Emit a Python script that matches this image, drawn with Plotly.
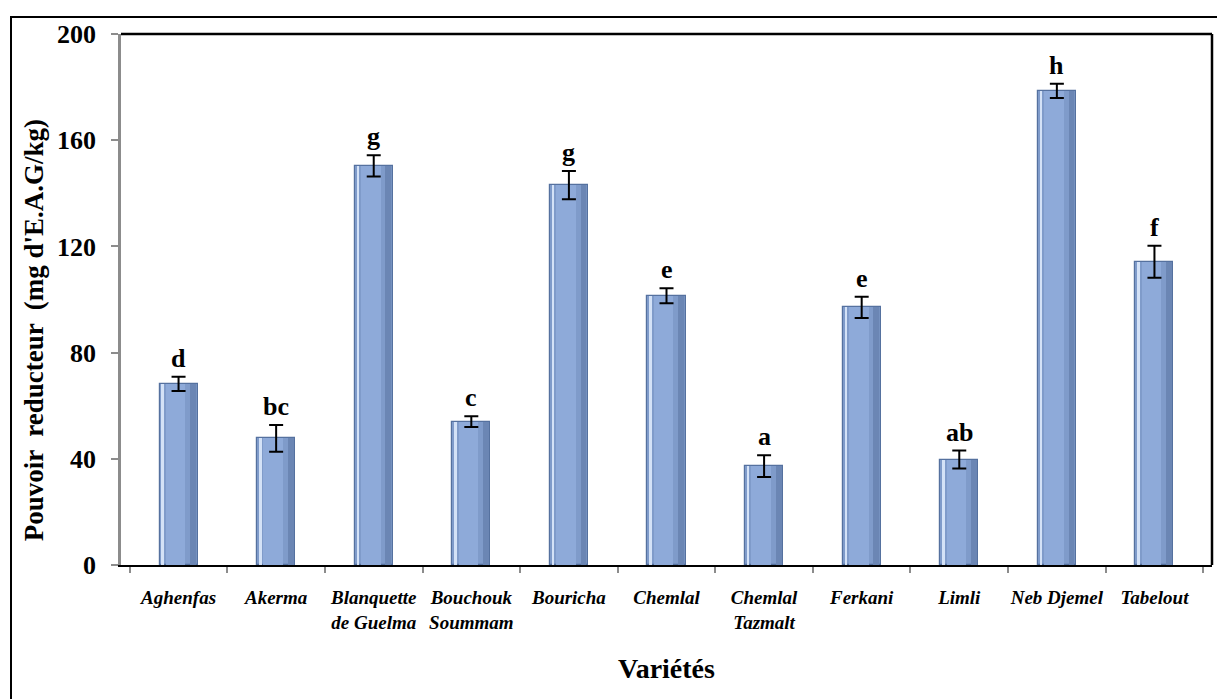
import plotly.graph_objects as go

categories = ["Aghenfas", "Akerma", "Blanquette<br>de Guelma", "Bouchouk<br>Soummam",
              "Bouricha", "Chemlal", "Chemlal<br>Tazmalt", "Ferkani", "Limli",
              "Neb Djemel", "Tabelout"]
values = [68.2, 47.7, 150.3, 54.0, 143.1, 101.4, 37.2, 97.0, 39.7, 178.6, 114.2]
errors = [2.7, 5.0, 4.0, 2.0, 5.3, 2.8, 4.1, 4.0, 3.4, 2.7, 6.0]
letters = ["d", "bc", "g", "c", "g", "e", "a", "e", "ab", "h", "f"]
y_ticks = [0, 40, 80, 120, 160, 200]

FONT = "Liberation Serif"
OFF = 8  # page body margin
W, H = 1225, 699
# target plot area in screen pixels: x 121..1212, y 31..565
L = 121 - OFF
T = 31 - OFF
R = W - (1212 - OFF)
B = H - (565 - OFF)
pw, ph = W - L - R, H - T - B

def px_x(p):
    return (p - OFF - L) / pw

def px_y(p):
    return (H - B - (p - OFF)) / ph

fig = go.Figure()

# main bar body
fig.add_trace(go.Bar(
    x=categories, y=values, width=0.39,
    marker=dict(color="#7f9bca", line=dict(color="#55719f", width=1.2)),
    hoverinfo="skip", showlegend=False,
))
# darker right shading strip
fig.add_trace(go.Bar(
    x=categories, y=values, width=0.06, offset=0.12,
    marker=dict(color="#6b86b4", line=dict(width=0)),
    hoverinfo="skip", showlegend=False,
))
# light highlight strip on left
fig.add_trace(go.Bar(
    x=categories, y=values, width=0.025, offset=-0.175,
    marker=dict(color="#d4e2f7", line=dict(width=0)),
    hoverinfo="skip", showlegend=False,
))
# central lighter body
fig.add_trace(go.Bar(
    x=categories, y=values, width=0.2, offset=-0.13,
    marker=dict(color="#8eaad9", line=dict(width=0)),
    hoverinfo="skip", showlegend=False,
))
# error bars on top
fig.add_trace(go.Scatter(
    x=categories, y=values, mode="markers",
    marker=dict(size=1, color="rgba(0,0,0,0)"),
    error_y=dict(type="data", array=errors, color="black", thickness=2, width=7),
    hoverinfo="skip", showlegend=False,
))

annotations = []
for c, v, e, t in zip(categories, values, errors, letters):
    annotations.append(dict(
        x=c, y=v + e, xref="x", yref="y", text=f"<b>{t}</b>", showarrow=False,
        yanchor="bottom", yshift=2,
        font=dict(family=FONT, size=26, color="black"),
    ))

annotations.append(dict(
    x=0.5, y=px_y(669), xref="paper", yref="paper", text="<b>Variétés</b>",
    showarrow=False, yanchor="middle", xanchor="center",
    font=dict(family=FONT, size=28, color="black"),
))
annotations.append(dict(
    x=px_x(34), y=px_y(329), xref="paper", yref="paper",
    text="<b>Pouvoir  reducteur  (mg d'E.A.G/kg)</b>",
    showarrow=False, textangle=-90, yanchor="middle", xanchor="center",
    font=dict(family=FONT, size=27, color="black"),
))

shapes = [
    # outer frame
    dict(type="rect", xref="paper", yref="paper",
         x0=px_x(11), x1=px_x(1250), y0=px_y(740), y1=px_y(14),
         line=dict(color="black", width=2), layer="below"),
    # plot area top and right borders
    dict(type="line", xref="paper", yref="paper", x0=0, x1=1, y0=1, y1=1,
         line=dict(color="black", width=2.5)),
    dict(type="line", xref="paper", yref="paper", x0=1, x1=1, y0=0, y1=1,
         line=dict(color="black", width=2.5)),
]

fig.update_layout(
    width=W, height=H,
    margin=dict(l=L, r=R, t=T, b=B),
    paper_bgcolor="white", plot_bgcolor="white",
    barmode="overlay", bargap=0,
    showlegend=False,
    annotations=annotations,
    shapes=shapes,
    font=dict(family=FONT, color="black"),
)

fig.update_xaxes(
    type="category",
    tickvals=categories, ticktext=[f"<b><i>{c}</i></b>" for c in categories],
    tickangle=0,
    showline=True, linecolor="black", linewidth=2,
    ticks="outside", tickson="boundaries", ticklen=6, tickcolor="#8c8c8c", tickwidth=1.5,
    tickfont=dict(family=FONT, size=19, color="black"),
    ticklabelstandoff=14,
    showgrid=False, zeroline=False,
)
fig.update_yaxes(
    range=[0, 200], tickvals=y_ticks, ticktext=[f"<b>{v}</b>" for v in y_ticks],
    showline=True, linecolor="#8c8c8c", linewidth=2.5,
    ticks="outside", ticklen=7, tickcolor="#8c8c8c", tickwidth=1.5,
    tickfont=dict(family=FONT, size=26, color="black"),
    ticklabelstandoff=10,
    showgrid=False, zeroline=False,
)

fig.write_html("out.html")
